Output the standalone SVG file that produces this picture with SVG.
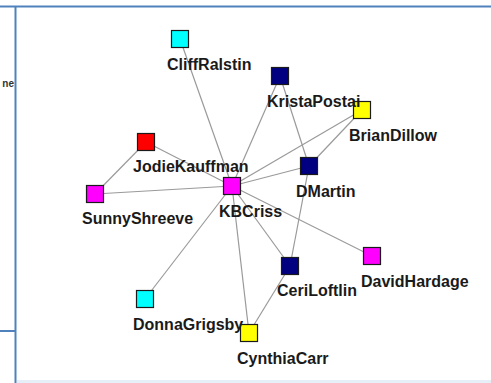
<svg xmlns="http://www.w3.org/2000/svg" width="491" height="383" viewBox="0 0 491 383">
<style>
.frame{stroke:#4f81bd;stroke-width:2;fill:none}
.edge{stroke:#9a9a9a;stroke-width:1.2;fill:none}
.n rect{stroke:#1a1a1a;stroke-width:1.2}
.lbl{font-family:"Liberation Sans",Arial,sans-serif;font-weight:bold;font-size:16px;fill:#1a1a1a}
.cyan{fill:#00ffff}.navy{fill:#000080}.yellow{fill:#ffff00}.red{fill:#ff0000}.magenta{fill:#ff00ff}
</style>
<rect x="0" y="0" width="491" height="383" fill="#ffffff"/>
<rect x="17" y="380" width="474" height="3" fill="#e6eef7"/>
<g id="frame">
<line class="frame" x1="0" y1="6.5" x2="491" y2="6.5"/>
<line class="frame" x1="15.5" y1="6" x2="15.5" y2="383"/>
<line class="frame" x1="0" y1="331" x2="15" y2="331"/>
<text x="14" y="87" text-anchor="end" font-family="Liberation Sans,Arial,sans-serif" font-weight="bold" font-size="10" fill="#333">ne</text>
</g>
<g id="connectors">
<line class="edge" x1="180" y1="39" x2="232" y2="186"/>
<line class="edge" x1="280" y1="76" x2="232" y2="186"/>
<line class="edge" x1="280" y1="76" x2="309" y2="166"/>
<line class="edge" x1="362" y1="110" x2="232" y2="186"/>
<line class="edge" x1="362" y1="110" x2="309" y2="166"/>
<line class="edge" x1="146" y1="142" x2="232" y2="186"/>
<line class="edge" x1="146" y1="142" x2="95" y2="194"/>
<line class="edge" x1="95" y1="194" x2="232" y2="186"/>
<line class="edge" x1="309" y1="166" x2="232" y2="186"/>
<line class="edge" x1="309" y1="166" x2="290" y2="266"/>
<line class="edge" x1="232" y1="186" x2="290" y2="266"/>
<line class="edge" x1="232" y1="186" x2="372" y2="256"/>
<line class="edge" x1="232" y1="186" x2="145" y2="299"/>
<line class="edge" x1="232" y1="186" x2="249" y2="333"/>
<line class="edge" x1="290" y1="266" x2="249" y2="333"/>
</g>
<g id="CliffRalstin" class="n"><rect class="cyan" x="171.5" y="30.5" width="17" height="17"/></g>
<g id="KristaPostai" class="n"><rect class="navy" x="271.5" y="67.5" width="17" height="17"/></g>
<g id="BrianDillow" class="n"><rect class="yellow" x="353.5" y="101.5" width="17" height="17"/></g>
<g id="JodieKauffman" class="n"><rect class="red" x="137.5" y="133.5" width="17" height="17"/></g>
<g id="DMartin" class="n"><rect class="navy" x="300.5" y="157.5" width="17" height="17"/></g>
<g id="KBCriss" class="n"><rect class="magenta" x="223.5" y="177.5" width="17" height="17"/></g>
<g id="SunnyShreeve" class="n"><rect class="magenta" x="86.5" y="185.5" width="17" height="17"/></g>
<g id="DavidHardage" class="n"><rect class="magenta" x="363.5" y="247.5" width="17" height="17"/></g>
<g id="CeriLoftlin" class="n"><rect class="navy" x="281.5" y="257.5" width="17" height="17"/></g>
<g id="DonnaGrigsby" class="n"><rect class="cyan" x="136.5" y="290.5" width="17" height="17"/></g>
<g id="CynthiaCarr" class="n"><rect class="yellow" x="240.5" y="324.5" width="17" height="17"/></g>
<g id="labels">
<text class="lbl" x="167" y="70">CliffRalstin</text>
<text class="lbl" x="267" y="107">KristaPostai</text>
<text class="lbl" x="349" y="141">BrianDillow</text>
<text class="lbl" x="133" y="172">JodieKauffman</text>
<text class="lbl" x="296" y="197">DMartin</text>
<text class="lbl" x="219" y="217">KBCriss</text>
<text class="lbl" x="82" y="224">SunnyShreeve</text>
<text class="lbl" x="361" y="287">DavidHardage</text>
<text class="lbl" x="277" y="296">CeriLoftlin</text>
<text class="lbl" x="133" y="330">DonnaGrigsby</text>
<text class="lbl" x="237" y="364">CynthiaCarr</text>
</g>
</svg>
